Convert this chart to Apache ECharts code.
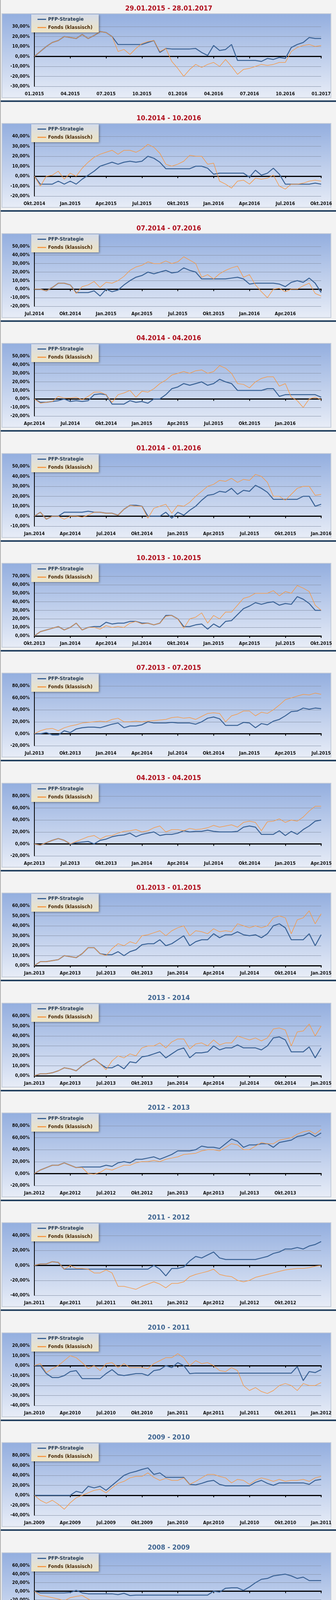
<!DOCTYPE html>
<html><head><meta charset="utf-8">
<script src="https://cdn.jsdelivr.net/npm/echarts@6/dist/echarts.min.js"></script>
<style>
body{margin:0;background:#f3f3f3;}
#wrap{position:relative;width:860px;height:4232px;background:#f3f3f3;border-left:2px solid #b0b0b0;box-sizing:border-box;}
.p{position:absolute;left:0;width:860px;height:282px;}
</style></head><body><div id="wrap"></div>
<script>
// ---- data (percent values, sampled every half month over 24 months) ----
const titles = ["29.01.2015 - 28.01.2017","10.2014 - 10.2016","07.2014 - 07.2016","04.2014 - 04.2016","01.2014 - 01.2016","10.2013 - 10.2015","07.2013 - 07.2015","04.2013 - 04.2015","01.2013 - 01.2015","2013 - 2014","2012 - 2013","2011 - 2012","2010 - 2011","2009 - 2010","2008 - 2009"];
const xLabels1 = ["01.2015","04.2015","07.2015","10.2015","01.2016","04.2016","07.2016","10.2016","01.2017"];
const xLabels2 = ["Okt.2014","Jan.2015","Apr.2015","Jul.2015","Okt.2015","Jan.2016","Apr.2016","Jul.2016","Okt.2016"];
const xLabels3 = ["Jul.2014","Okt.2014","Jan.2015","Apr.2015","Jul.2015","Okt.2015","Jan.2016","Apr.2016",""];
const xLabels4 = ["Apr.2014","Jul.2014","Okt.2014","Jan.2015","Apr.2015","Jul.2015","Okt.2015","Jan.2016",""];
const xLabels5 = ["Jan.2014","Apr.2014","Jul.2014","Okt.2014","Jan.2015","Apr.2015","Jul.2015","Okt.2015","Jan.2016"];
const xLabels6 = ["Okt.2013","Jan.2014","Apr.2014","Jul.2014","Okt.2014","Jan.2015","Apr.2015","Jul.2015","Okt.2015"];
const xLabels7 = ["Jul.2013","Okt.2013","Jan.2014","Apr.2014","Jul.2014","Okt.2014","Jan.2015","Apr.2015","Jul.2015"];
const xLabels8 = ["Apr.2013","Jul.2013","Okt.2013","Jan.2014","Apr.2014","Jul.2014","Okt.2014","Jan.2015","Apr.2015"];
const xLabels9 = ["Jan.2013","Apr.2013","Jul.2013","Okt.2013","Jan.2014","Apr.2014","Jul.2014","Okt.2014","Jan.2015"];
const xLabels10 = xLabels9;
const xLabels11 = ["Jan.2012","Apr.2012","Jul.2012","Okt.2012","Jan.2013","Apr.2013","Jul.2013","Okt.2013",""];
const xLabels12 = ["Jan.2011","Apr.2011","Jul.2011","Okt.2011","Jan.2012","Apr.2012","Jul.2012","Okt.2012",""];
const xLabels13 = ["Jan.2010","Apr.2010","Jul.2010","Okt.2010","Jan.2011","Apr.2011","Jul.2011","Okt.2011","Jan.2012"];
const xLabels14 = ["Jan.2009","Apr.2009","Jul.2009","Okt.2009","Jan.2010","Apr.2010","Jul.2010","Okt.2010","Jan.2011"];
const xLabels15 = ["Jan.2008","Apr.2008","Jul.2008","Okt.2008","Jan.2009","Apr.2009","Jul.2009","Okt.2009","Jan.2010"];
const yRanges = [[-30,30,10],[-20,40,10],[-20,50,10],[-20,50,10],[-10,50,10],[0,70,10],[-20,80,20],[-20,80,20],[0,60,10],[0,60,10],[-20,80,20],[-40,40,20],[-40,20,10],[-40,80,20],[-80,60,20]];

const pfp1 = [0,5,10,14,16,20,19,18,22,18,21,25,24,20,12,12,12,12,12,14,16,4,8,7.5,7.5,7.5,7.5,8,4,1,11,6,7,12,-4,-4,-4,-4,-5,-2,-3,-1,-2,9,12,14,19,18,18];
const fonds1 = [0,5,10,14,16,20,19,18,22,18,21,25,24,20,5,7,2,8,13,15,16,5,8,-5,-12,-20,-13,-8,-11,-8,-6,-10,-3,-10,-18,-13,-12,-10,-8,-9,-8,-6,-6,5,9,11,12,10,11];
const pfp2 = [0,-8,-8,-8,-5,-8,-5,-8,-3,1,5,10,12,14,12,14,15,14,15,20,18,14,7.5,7.5,7.5,7.5,7.5,10,10,8,2,3,3,3,3,3,-1,6,1,3,8,2,-8,-8,-8,-8,-8,-7,-8];
const fonds2 = [0,-10,0,1,5,-3,3,0,8,14,19,22,24,26,22,26,26,24,27,32,29,23,12,10,12,15,21,20,20,12,13,-5,-8,-12,-5,-4,-8,-2,-3,-2,1,-10,-13,-8,-8,-7,-5,-4,-5];
const pfp3 = [0,0,-2,2,7,7,5,-4,-4,-4,-2,-8,0,-3,-1,5,10,14,16,20,18,20,22,19,20,25,22,20,12,12,12,12,12,13,14,12,6,7,7,7,7,6,3,8,10,8,13,7,-4];
const fonds3 = [0,0,-2,2,7,7,5,-5,3,5,9,2,8,7,10,15,22,26,28,32,30,30,33,30,32,38,34,30,14,17,12,18,22,25,27,14,17,5,-3,-10,0,1,-3,0,0,4,7,-5,-8];
const pfp4 = [0,-4,-4,-3,-2,0,-3,-2,-3,-2,5,6,5,-6,-6,-6,-2,-4,-3,-5,0,0,5,12,14,18,16,18,20,16,18,23,20,18,10,10,10,10,10,12,12,3,5,5,5,5,5,5,2];
const fonds4 = [0,-5,-4,-3,3,1,1,2,-1,3,8,8,5,-4,5,7,10,2,9,8,12,18,22,28,30,32,30,33,34,30,32,39,36,30,18,17,13,20,24,26,26,15,18,2,-2,-10,0,2,-1];
const pfp5 = [0,4,-3,0,0,4,4,4,4,5,4,4,3,3,1,7,11,11,10,0,0,0,4,-2,4,1,6,10,16,21,22,25,24,28,22,26,25,31,28,24,17,17,17,17,17,20,20,10,12];
const fonds5 = [0,4,-3,0,0,-3,0,0,-1,1,4,4,3,3,1,7,11,10,10,-2,8,10,12,3,11,10,14,20,25,30,32,36,35,38,34,37,36,42,40,34,20,20,16,22,28,30,30,21,22];
const pfp6 = [0,5,7,9,11,7,10,15,7,10,11,11,16,14,15,15,17,17,15,15,13,15,24,24,20,11,11,13,14,8,14,10,17,18,25,32,35,39,37,39,40,36,38,37,46,43,38,30,30];
const fonds6 = [0,5,7,9,11,7,10,15,7,10,10,8,12,10,11,10,15,17,14,15,13,15,23,24,20,9,20,22,27,15,24,20,28,28,36,44,46,50,50,50,53,47,52,50,59,56,52,36,30];
const pfp7 = [0,0,2,-2,-2,5,2,8,10,11,11,10,13,16,18,10,13,13,15,20,18,18,18,19,18,18,18,16,20,26,28,25,14,14,14,19,18,10,17,15,21,24,30,37,38,43,41,43,42];
const fonds7 = [0,5,8,9,5,10,13,15,18,19,20,21,20,24,26,20,20,21,20,21,22,23,24,27,28,26,27,24,29,34,35,34,20,30,33,38,38,30,36,34,40,48,57,60,63,66,65,68,66];
const pfp8 = [0,-2,2,6,9,6,0,2,3,4,0,6,8,12,14,15,18,12,16,18,20,14,16,16,18,22,20,21,21,23,21,20,20,20,21,28,30,28,16,16,16,22,14,21,16,24,30,38,40];
const fonds8 = [0,-2,2,6,9,6,0,4,8,12,14,8,13,14,18,21,22,24,20,22,27,30,20,24,24,22,26,24,25,27,31,28,30,32,28,36,38,36,22,37,38,42,36,40,38,45,55,63,63];
const pfp9 = [0,4,4,5,6,10,9,8,12,18,18,12,11,11,14,10,14,16,21,22,22,26,20,22,26,30,20,24,26,26,32,28,31,31,34,31,30,31,28,32,40,42,38,26,26,26,32,20,31];
const fonds9 = [0,4,4,5,6,10,9,8,12,18,18,12,10,17,22,20,24,22,30,31,33,35,30,35,38,40,30,35,34,32,37,34,35,34,42,40,38,40,38,40,48,50,48,32,46,48,55,42,52];
const pfp10 = [0,2,2,3,5,8,7,5,10,14,17,12,8,8,11,7,14,13,19,20,22,24,18,22,26,28,18,23,23,24,30,26,28,28,31,28,28,28,26,30,38,39,36,24,24,24,29,18,28];
const fonds10 = [0,2,2,3,5,8,7,5,10,14,17,12,6,15,20,18,22,20,28,30,30,33,28,34,37,37,27,32,33,30,36,31,33,33,40,38,36,38,35,38,47,48,46,30,44,45,52,40,50];
const pfp11 = [0,6,10,14,14,18,14,10,11,11,11,11,14,12,18,20,18,24,24,26,28,24,28,32,38,38,38,40,46,44,44,42,50,58,54,44,48,48,50,50,44,52,54,56,62,64,68,62,68];
const fonds11 = [0,6,10,14,14,18,14,10,10,0,-1,2,8,6,10,14,14,18,20,20,22,20,24,26,28,32,33,34,38,40,40,38,44,50,48,40,40,46,52,50,50,56,58,60,66,70,72,66,74];
const pfp12 = [0,2,2,5,4,-5,-5,-5,-5,-5,-5,-5,-5,-5,-5,-5,-5,-5,-5,-5,0,-5,-14,-4,-4,-2,6,12,10,14,18,10,8,8,8,8,8,8,10,12,16,18,22,22,24,22,26,28,32];
const fonds12 = [0,2,2,5,4,-5,0,-4,-4,-5,-10,-10,-6,-10,-28,-28,-30,-32,-28,-25,-22,-25,-30,-24,-24,-22,-15,-12,-10,-8,-5,-12,-14,-15,-20,-22,-20,-16,-14,-12,-10,-8,-6,-5,-4,-4,-3,-1,0];
const pfp13 = [0,0,-8,-12,-12,-10,-6,-5,-13,-13,-13,-13,-8,-4,-9,-10,-9,-8,-8,-10,-5,-4,0,-2,3,0,-8,-7.5,-7.5,-7.5,-7.5,-7.5,-7.5,-7.5,-7.5,-7.5,-7.5,-7.5,-7.5,-7.5,-7.5,-7.5,-7.5,-7.5,-1,-15,-6,-7,-4];
const fonds13 = [0,2,-7,-3,0,5,10,8,3,-3,0,-5,2,3,-2,2,-2,-2,-2,-3,2,5,8,8,12,8,0,5,2,3,0,-5,-6,-2,-5,-20,-25,-22,-26,-28,-25,-20,-18,-20,-25,-18,-20,-20,-17];
const pfp14 = [0,0,0,0,0,0,0,8,5,18,15,18,10,20,30,40,45,48,52,55,42,45,36,36,36,36,22,21,24,28,30,22,19,19,19,19,19,26,30,24,20,25,25,25,25,25,22,30,32];
const fonds14 = [0,-10,-16,-10,-18,-28,-15,-5,0,5,10,12,5,15,24,28,35,38,38,45,36,30,34,30,30,35,22,28,35,42,42,38,35,25,32,30,22,30,35,32,28,32,28,30,30,32,28,35,38];
const pfp15 = [0,-4,-4,-4,-4,-4,-3,2,-4,-6,-6,-6,-6,-6,-8,-5,-10,-9,-9,-9,-9,-9,-9,-9,-9,-9,-9,-9,-9,-9,0,-2,7,8,8,2,10,20,28,30,36,38,40,36,30,33,25,25,25];
const fonds15 = [0,-10,-12,-15,-18,-22,-15,-12,-10,-18,-25,-30,-30,-28,-28,-25,-30,-35,-48,-50,-60,-56,-56,-56,-58,-62,-60,-64,-68,-60,-58,-55,-50,-50,-48,-48,-50,-45,-42,-40,-38,-36,-34,-36,-38,-40,-40,-40,-40];

const panels = [
 [pfp1,fonds1,xLabels1],[pfp2,fonds2,xLabels2],[pfp3,fonds3,xLabels3],[pfp4,fonds4,xLabels4],[pfp5,fonds5,xLabels5],
 [pfp6,fonds6,xLabels6],[pfp7,fonds7,xLabels7],[pfp8,fonds8,xLabels8],[pfp9,fonds9,xLabels9],[pfp10,fonds10,xLabels10],
 [pfp11,fonds11,xLabels11],[pfp12,fonds12,xLabels12],[pfp13,fonds13,xLabels13],[pfp14,fonds14,xLabels14],[pfp15,fonds15,xLabels15]];

const FONT = "'Liberation Sans Narrow','DejaVu Sans Condensed','Liberation Sans',sans-serif";
const pts = arr => arr.map((v,i)=>[i*24/(arr.length-1), v]);
const wrap = document.getElementById('wrap');

panels.forEach((p,k)=>{
  const d = document.createElement('div');
  d.className='p'; d.style.top = (k*281.4)+'px';
  wrap.appendChild(d);
  const ch = echarts.init(d);
  const [ymin,ymax,yint] = yRanges[k];
  const labs = p[2];
  const graphic = [
    {type:'rect', z:-10, shape:{x:3,y:35,width:842,height:215},
     style:{fill:new echarts.graphic.LinearGradient(0,0,0,1,[{offset:0,color:'#93aedf'},{offset:1,color:'#e8edf7'}]),
            stroke:'#c4ccd9', lineWidth:2}},
    {type:'text', left:'center', top:13, z:10,
     style:{text:titles[k], font:"bold 18px "+FONT, fill: k<9 ? '#b0101e' : '#3f6591'}}
  ];
  if (k<14) graphic.push({type:'rect', shape:{x:0,y:257,width:860,height:4}, style:{fill:'#22405f'}});
  else graphic.push({type:'rect', shape:{x:0,y:257,width:860,height:4}, style:{fill:'#22405f'}});
  ch.setOption({
    animation:false,
    graphic: graphic,
    grid:{left:86,right:40,top:68,height:153},
    legend:{left:78,top:37,orient:'vertical',itemWidth:22,itemHeight:3,itemGap:8,
      padding:[6,16,6,16],
      backgroundColor:new echarts.graphic.LinearGradient(0,0,0,1,[{offset:0,color:'#d5dcea'},{offset:1,color:'#efe5c4'}]),
      shadowColor:'rgba(0,0,0,0.35)',shadowBlur:5,shadowOffsetX:2,shadowOffsetY:2,
      icon:'rect',
      textStyle:{fontFamily:FONT,fontWeight:'bold',fontSize:13},
      data:[{name:'PFP-Strategie',textStyle:{color:'#1f3550'}},{name:'Fonds (klassisch)',textStyle:{color:'#4a2a08'}}]},
    xAxis:[
      {type:'value',min:0,max:24,interval:3,position:'bottom',axisLine:{show:false,onZero:false},axisTick:{show:false},splitLine:{show:false},
       axisLabel:{margin:14,color:'#111',fontFamily:FONT,fontWeight:'bold',fontSize:12,formatter:v=>labs[Math.round(v/3)]||''}},
      {type:'value',min:0,max:24,interval:3,position:'bottom',axisLine:{show:true,onZero:true,lineStyle:{color:'#000',width:3}},
       axisTick:{show:true,length:5,lineStyle:{color:'#000',width:2}},axisLabel:{show:false},splitLine:{show:false}}
    ],
    yAxis:{type:'value',min:ymin,max:ymax,interval:yint,
      axisLine:{show:true,lineStyle:{color:'#000',width:2}},axisTick:{show:false},
      splitLine:{lineStyle:{color:'#8893a8',width:1}},
      axisLabel:{margin:12,color:'#111',fontFamily:FONT,fontWeight:'bold',fontSize:12,formatter:v=>v.toFixed(2).replace('.',',')+'%'}},
    series:[
      {name:'PFP-Strategie',type:'line',xAxisIndex:1,data:pts(p[0]),showSymbol:false,symbol:'none',lineStyle:{color:'#3b6396',width:2.5},itemStyle:{color:'#3b6396'}},
      {name:'Fonds (klassisch)',type:'line',xAxisIndex:1,data:pts(p[1]),showSymbol:false,symbol:'none',lineStyle:{color:'#f49a4a',width:1.5},itemStyle:{color:'#f49a4a'}}
    ]
  });
});
</script></body></html>
